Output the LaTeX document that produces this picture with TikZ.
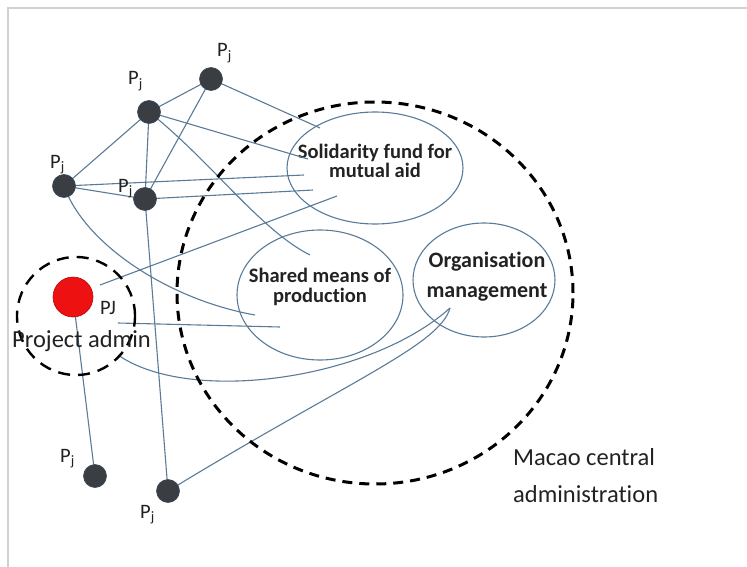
\documentclass[tikz,border=0pt]{standalone}
\usepackage{fontspec}
\setmainfont{Carlito}[Ligatures=NoCommon]
\usetikzlibrary{shapes.geometric}
\definecolor{link}{HTML}{5A7B98}
\definecolor{dot}{HTML}{3A3D42}
\definecolor{pjred}{HTML}{EE1111}
\definecolor{txt}{HTML}{222222}
\begin{document}
\begin{tikzpicture}[x=1pt,y=-1pt,
  pnode/.style={circle,fill=dot,draw=link!60!black,line width=0.6pt,minimum size=23pt,inner sep=0pt},
  conn/.style={draw=link,line width=1.1pt},
  bigdash/.style={draw=black,line width=3pt,dash pattern=on 10pt off 7pt},
  smalldash/.style={draw=black,line width=2.4pt,dash pattern=on 12pt off 8pt},
  oval/.style={ellipse,draw=link,line width=1.1pt,inner sep=0pt},
  boldlab/.style={font=\fontsize{20.5}{24}\selectfont\bfseries,anchor=base,inner sep=0pt,text=txt},
  reglab/.style={font=\fontsize{24.5}{29}\selectfont,anchor=base west,inner sep=0pt,text=txt},
  plab/.style={font=\fontsize{20.5}{24}\selectfont,anchor=base west,inner sep=0pt,text=txt}]
\useasboundingbox (0,0) rectangle (747,567);
\draw[black!18,line width=1.5pt] (8,567) -- (8,8) -- (747,8);

% ellipses
\node[oval,minimum width=176pt,minimum height=112pt] (sol) at (375,168) {};
\node[oval,minimum width=166pt,minimum height=130pt] (shr) at (320,295) {};
\node[oval,minimum width=142pt,minimum height=114pt] (org) at (484,280) {};

\node[boldlab] at (375,158) {Solidarity fund for};
\node[boldlab] at (375,177) {mutual aid};
\node[boldlab] at (320,282) {Shared means of};
\node[boldlab] at (320,302) {production};
\node[boldlab,font=\fontsize{22}{26}\selectfont\bfseries] at (487,267) {Organisation};
\node[boldlab,font=\fontsize{22}{26}\selectfont\bfseries] at (487,297) {management};

% node positions
\coordinate (a) at (211,79);
\coordinate (b) at (149,112);
\coordinate (c) at (64,186);
\coordinate (d) at (145,199);
\coordinate (e) at (95,476);
\coordinate (f) at (168,491);
\coordinate (pjc) at (73,297);

% free ends
\coordinate (s1) at (320,128);
\coordinate (s2) at (308,159);
\coordinate (s3) at (304,175);
\coordinate (s4) at (313,190);
\coordinate (s5) at (337,196);
\coordinate (r1) at (100,285);
\coordinate (h1) at (310,255);
\coordinate (h2) at (255,315);
\coordinate (h0) at (118,323);
\coordinate (h3) at (280,327);
\coordinate (r0) at (118,355);
\coordinate (o1) at (450,308);

% connectors
\draw[conn] (a) -- (b);
\draw[conn] (a) -- (d);
\draw[conn] (a) -- (s1);
\draw[conn] (b) -- (c);
\draw[conn] (b) -- (d);
\draw[conn] (b) -- (s2);
\draw[conn] (c) -- (d);
\draw[conn] (c) -- (s3);
\draw[conn] (d) -- (s4);
\draw[conn] (r1) -- (s5);
\draw[conn] (h0) -- (h3);
\draw[conn] (pjc) -- (e);
\draw[conn] (d) -- (f);
\draw[conn] (b) .. controls (210,160) and (260,230) .. (h1);
\draw[conn] (c) .. controls (85,245) and (170,300) .. (h2);
\draw[conn] (f) .. controls (350,380) and (440,345) .. (o1);
\draw[conn] (r0) .. controls (190,405) and (370,380) .. (o1);

% dashed boundaries
\node[ellipse,bigdash,minimum width=396pt,minimum height=382pt,inner sep=0pt] (macao) at (375,293) {};
\node[circle,smalldash,minimum size=118pt,inner sep=0pt] (adm) at (76,316) {};

% P nodes
\node[pnode] (na) at (a) {};
\node[pnode] (nb) at (b) {};
\node[pnode] (nc) at (c) {};
\node[pnode] (nd) at (d) {};
\node[pnode] (ne) at (e) {};
\node[pnode] (nf) at (f) {};
\node[circle,fill=pjred,draw=pjred!75!black,line width=0.6pt,minimum size=40pt,inner sep=0pt] (pj) at (pjc) {};

% labels
\node[plab] at (217,57) {P\textsubscript{j}};
\node[plab] at (128,85) {P\textsubscript{j}};
\node[plab] at (50,168) {P\textsubscript{j}};
\node[plab] at (118,192) {P\textsubscript{j}};
\node[plab] at (60,462) {P\textsubscript{j}};
\node[plab] at (140,518) {P\textsubscript{j}};
\node[plab] at (100,314) {PJ};
\node[reglab] at (12,347) {Project admin};
\node[reglab] at (513,465) {Macao central};
\node[reglab] at (513,502) {administration};
\end{tikzpicture}
\end{document}
